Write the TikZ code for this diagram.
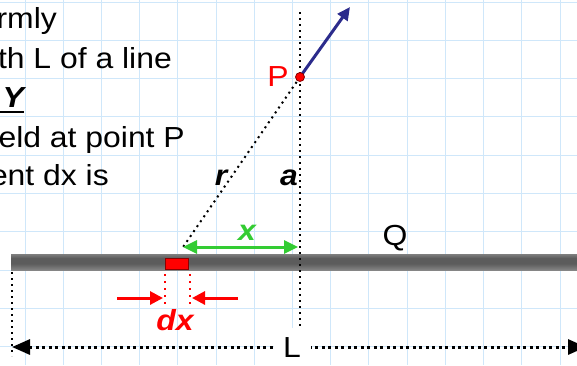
\documentclass[tikz,border=0pt]{standalone}
\usepackage{fontspec}
\setmainfont{Liberation Sans}[FakeStretch=1.1]
\usetikzlibrary{arrows.meta}
\definecolor{gridblue}{HTML}{CFE7FA}
\definecolor{pgreen}{HTML}{33CC33}
\definecolor{navyarrow}{HTML}{2B2B8C}
\definecolor{darkred}{HTML}{8B0000}
\definecolor{barA}{HTML}{C8C8C8}
\definecolor{barB}{HTML}{5C5C5C}
\definecolor{barC}{HTML}{D8D8D8}
\definecolor{barD}{HTML}{A8A8A8}
\definecolor{redtxt}{HTML}{FF0000}
\pgfdeclareverticalshading{barshade}{100bp}{color(0bp)=(barC); color(8bp)=(barD); color(45bp)=(barB); color(62bp)=(barB); color(90bp)=(barD); color(100bp)=(barA)}
\begin{document}
\begin{tikzpicture}[x=1pt,y=-1pt,
  txt/.style={font=\fontsize{29}{34}\selectfont, inner sep=0pt},
  lbl/.style={font=\fontsize{29}{34}\selectfont\bfseries\itshape, inner sep=0pt},
  gridline/.style={gridblue, line width=1pt},
  blackdots/.style={black, line width=2pt, dash pattern=on 2pt off 4pt},
  reddots/.style={red, line width=2pt, dash pattern=on 2pt off 5pt},
  redarrow/.style={red, line width=3pt, -{Triangle[length=13pt,width=13pt]}},
  dimline/.style={black, line width=3pt, dash pattern=on 3pt off 3.5pt, {Triangle[length=18pt,width=15pt]}-{Triangle[length=18pt,width=15pt]}}]
\clip (0,0) rectangle (577,365);
\fill[white] (0,0) rectangle (577,365);
% grid
\foreach \i in {0,...,14} \draw[gridline] ({25+38.22*\i},0) -- ({25+38.22*\i},365);
\foreach \j in {0,...,9} \draw[gridline] (0,{2+38.33*\j}) -- (577,{2+38.33*\j});
% text block (cropped)
\node[txt, anchor=base east] (t1) at (57,28) {rmly};
\node[txt, anchor=base east] (t2) at (172,68) {th L of a line};
\node[lbl, anchor=base east] (t3) at (24,107) {Y};
\draw[black, line width=1.2pt] (-2,112) -- (24,112);
\node[txt, anchor=base east] (t4) at (185,147) {eld at point P};
\node[txt, anchor=base east] (t5) at (109,185) {ent dx is};
% coordinates
\coordinate (P) at (300,77);
\coordinate (Ptip) at (350,7);
\coordinate (rfoot) at (181,250);
\coordinate (atop) at (300,12);
\coordinate (abot) at (300,326);
\coordinate (xl) at (183,247);
\coordinate (xr) at (298,247);
\coordinate (Lleft) at (12,347);
\coordinate (Lright) at (586,347);
\coordinate (vtop) at (12,272);
\coordinate (vbot) at (12,356);
% bar
\shade[shading=barshade] (11,254) rectangle (585,270);
% charge element
\draw[darkred, fill=red, line width=1pt] (165,258) rectangle (188,269);
\node[font=\fontsize{29}{34}\selectfont, inner sep=0pt] (Q) at (395,238) {Q};
% dotted geometry
\draw[blackdots] (P) -- (rfoot);
\draw[blackdots] (atop) -- (abot);
\draw[blackdots] (vtop) -- (vbot);
% x arrow
\draw[pgreen, line width=3pt, {Triangle[length=14pt,width=13pt]}-{Triangle[length=14pt,width=13pt]}] (xl) -- (xr);
\node[lbl, text=pgreen, anchor=base] (xlab) at (247,240) {x};
% r, a labels
\node[lbl, anchor=base] (rlab) at (221,185) {r};
\node[lbl, anchor=base] (alab) at (289,185) {a};
% field arrow and point
\draw[navyarrow, line width=3pt, -{Triangle[length=13pt,width=12pt]}] (P) -- (Ptip);
\fill[red, draw=darkred, line width=0.8pt] (P) circle (4.5pt);
\node[txt, text=redtxt] (Plab) at (278,77) {P};
% dx
\draw[reddots] (165,274) -- (165,305);
\draw[reddots] (190,274) -- (190,305);
\coordinate (dxl0) at (117,298);
\coordinate (dxl1) at (163,298);
\coordinate (dxr0) at (238,298);
\coordinate (dxr1) at (192,298);
\draw[redarrow] (dxl0) -- (dxl1);
\draw[redarrow] (dxr0) -- (dxr1);
\node[lbl, text=redtxt, anchor=base] (dxlab) at (175,330) {dx};
% L dimension
\draw[dimline] (Lleft) -- (Lright);
\node[txt, fill=white, minimum width=37pt, minimum height=40pt] (Llab) at (292,348) {L};
\end{tikzpicture}
\end{document}
